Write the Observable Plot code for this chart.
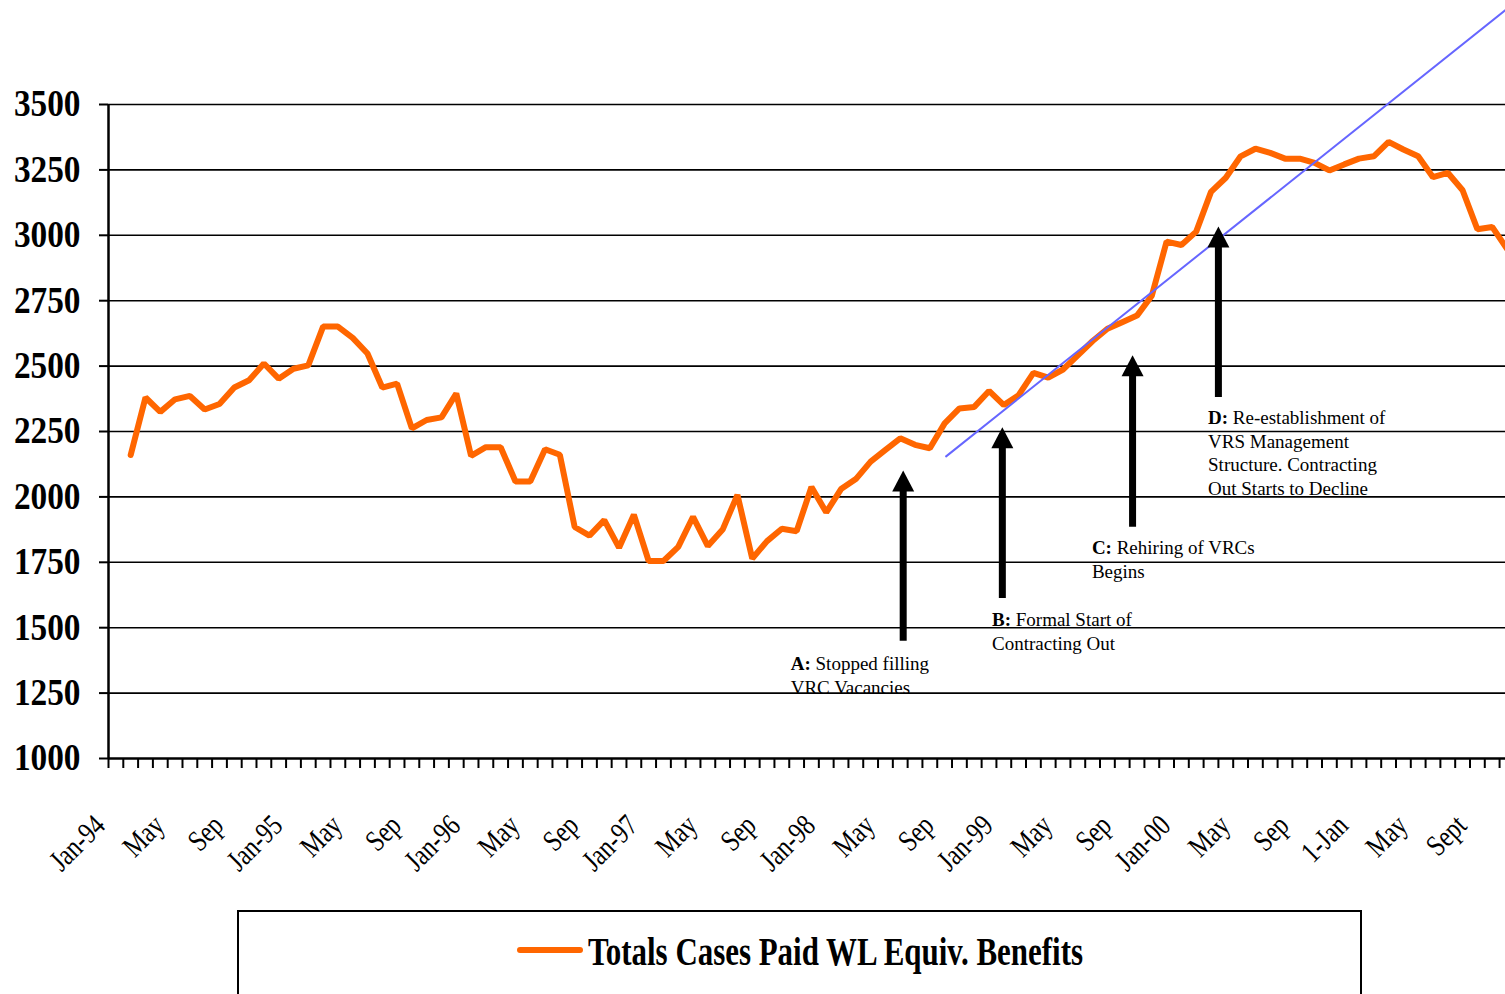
<!DOCTYPE html>
<html><head><meta charset="utf-8">
<script src="https://cdn.jsdelivr.net/npm/d3@7"></script>
<script src="https://cdn.jsdelivr.net/npm/@observablehq/plot@0.6"></script>
<style>
html,body{margin:0;padding:0;background:#fff;overflow:hidden;width:1505px;height:994px;}
#chart{position:absolute;left:0;top:0;}
#legend{position:absolute;left:237px;top:910px;width:1125px;height:120px;border:2.5px solid #000;box-sizing:border-box;background:#fff;}
</style></head><body>
<div id="chart"></div>
<div id="legend"></div>
<script>
// ---- data ----
const monthLabels = ["Jan-94","May","Sep","Jan-95","May","Sep","Jan-96","May","Sep","Jan-97","May","Sep",
  "Jan-98","May","Sep","Jan-99","May","Sep","Jan-00","May","Sep","1-Jan","May","Sept"];
const labelStep = 4;            // one label every 4 months
const firstMonth = 1;           // series starts Feb-94 (month index 1, Jan-94 = 0)
const values = [2160,2380,2325,2373,2386,2334,2355,2418,2446,2510,2452,2490,
  2503,2651,2651,2608,2548,2418,2433,2262,2294,2304,2395,2157,
  2190,2190,2059,2059,2182,2161,1885,1852,1911,1806,1932,1755,
  1755,1809,1924,1812,1875,2008,1764,1831,1878,1869,2038,1941,
  2030,2068,2135,2180,2224,2199,2186,2281,2338,2344,2405,2351,
  2389,2474,2456,2487,2541,2596,2643,2668,2693,2769,2976,2963,
  3014,3166,3220,3302,3331,3315,3293,3293,3277,3248,3271,3293,
  3302,3357,3328,3302,3222,3239,3172,3023,3032,2948];
const yTicks = [1000,1250,1500,1750,2000,2250,2500,2750,3000,3250,3500];
const trendMonths = [56.1, 93.9];
const trendValues = [2155, 3861];
const arrowMonths = [53.2, 59.9, 68.7, 74.5];
const arrowTails  = [1448, 1612, 1884, 2380];
const arrowTips   = [2101, 2266, 2541, 3034];
const notePrefixes = ["A:", "B:", "C:", "D:"];
const noteTexts = [
  "Stopped filling\nVRC Vacancies",
  "Formal Start of\nContracting Out",
  "Rehiring of VRCs\nBegins",
  "Re-establishment of\nVRS Management\nStructure. Contracting\nOut Starts to Decline"
];
const noteMonths = [45.6, 59.2, 65.95, 73.8];
const noteTops   = [1402, 1570, 1845, 2342];
const legendLabel = "Totals Cases Paid WL Equiv. Benefits";
const xDomain = [-0.5, 93.9];

// ---- tables ----
const series = values.map((v, k) => ({m: firstMonth + k, v}));
const trend = trendMonths.map((m, k) => ({m, v: trendValues[k]}));
const arrows = arrowMonths.map((m, k) => ({m, tail: arrowTails[k], tip: arrowTips[k]}));
const notes = noteMonths.map((m, k) => ({m, top: noteTops[k], text: notePrefixes[k] + " " + noteTexts[k]}));
const labelMonths = monthLabels.map((_, j) => j * labelStep);
const boundaries = d3.range(xDomain[0], 94, 1);

// arrow head drawn with its tip at the anchor point
const arrowHead = {draw(ctx) { ctx.moveTo(0, 0); ctx.lineTo(-11, 21); ctx.lineTo(11, 21); ctx.closePath(); }};

const W = 1505, H = 900;
const FONT = "'Liberation Serif','Times New Roman',serif";
const plot = Plot.plot({
  width: W, height: H,
  marginLeft: 108, marginRight: 0, marginTop: 104, marginBottom: H - 758,
  x: {domain: xDomain, label: null},
  y: {domain: [1000, 3500], label: null},
  style: {fontFamily: FONT, background: "#fff", overflow: "hidden", color: "#000"},
  marks: [
    Plot.ruleY(yTicks.filter(d => d > yTicks[0]), {stroke: "#000", strokeWidth: 1.6}),
    Plot.ruleY([yTicks[0]], {stroke: "#000", strokeWidth: 2.5}),
    Plot.ruleX([xDomain[0]], {y1: yTicks[0], y2: yTicks[yTicks.length - 1], stroke: "#000", strokeWidth: 2.5}),
    Plot.axisY(yTicks, {tickSize: 9, tickPadding: 19, fontSize: 37, fontWeight: "bold", strokeWidth: 2, fontFamily: FONT,
      tickFormat: d => String(d)}),
    Plot.axisX(boundaries, {tickSize: 10, tickFormat: () => "", strokeWidth: 2}),
    Plot.axisX(labelMonths, {tickSize: 0, tickRotate: -45, tickPadding: 62, dx: -16, fontSize: 30, fontFamily: FONT,
      tickFormat: d => monthLabels[d / labelStep]}),
    Plot.line(series, {x: "m", y: "v", stroke: "#ff6600", strokeWidth: 6, strokeLinejoin: "miter"}),
    Plot.line(trend, {x: "m", y: "v", stroke: "#6666ff", strokeWidth: 2}),
    Plot.ruleX(arrows, {x: "m", y1: "tip", y2: "tail", stroke: "#000", strokeWidth: 7, insetTop: 15}),
    Plot.dot(arrows, {x: "m", y: "tip", symbol: arrowHead, fill: "#000", stroke: "none"}),
    Plot.text(notes, {x: "m", y: "top", text: "text", textAnchor: "start", lineAnchor: "top",
      fontSize: 19, lineHeight: 1.24, fill: "#000", fontFamily: FONT})
  ]
});
document.getElementById("chart").appendChild(plot);

// condense text like the original (narrow glyphs)
function condense(sel, f) {
  plot.querySelectorAll(sel).forEach(t => {
    const L = t.getComputedTextLength();
    if (L > 0) { t.setAttribute("textLength", L * f); t.setAttribute("lengthAdjust", "spacingAndGlyphs"); }
  });
}
condense('g[aria-label="y-axis tick label"] text', 0.9);
condense('g[aria-label="x-axis tick label"] text', 0.8);

// bold prefixes in notes
const SVGNS = "http://www.w3.org/2000/svg";
plot.querySelectorAll("tspan").forEach(ts => {
  const s = ts.textContent;
  const p = notePrefixes.find(q => s.startsWith(q + " "));
  if (!p) return;
  ts.textContent = "";
  const b = document.createElementNS(SVGNS, "tspan");
  b.setAttribute("style", "font-weight:bold");
  b.textContent = p;
  ts.appendChild(b);
  ts.appendChild(document.createTextNode(s.slice(p.length)));
});

// legend
const lg = d3.select("#legend").append("svg").attr("width", 1120).attr("height", 115);
lg.append("line").attr("x1", 281).attr("x2", 341).attr("y1", 38).attr("y2", 38)
  .attr("stroke", "#ff6600").attr("stroke-width", 6).attr("stroke-linecap", "round");
lg.append("text").attr("x", 349).attr("y", 52.5).attr("font-family", FONT).attr("font-weight", "bold")
  .attr("font-size", 40).attr("textLength", 495).attr("lengthAdjust", "spacingAndGlyphs").text(legendLabel);
</script>
</body></html>
